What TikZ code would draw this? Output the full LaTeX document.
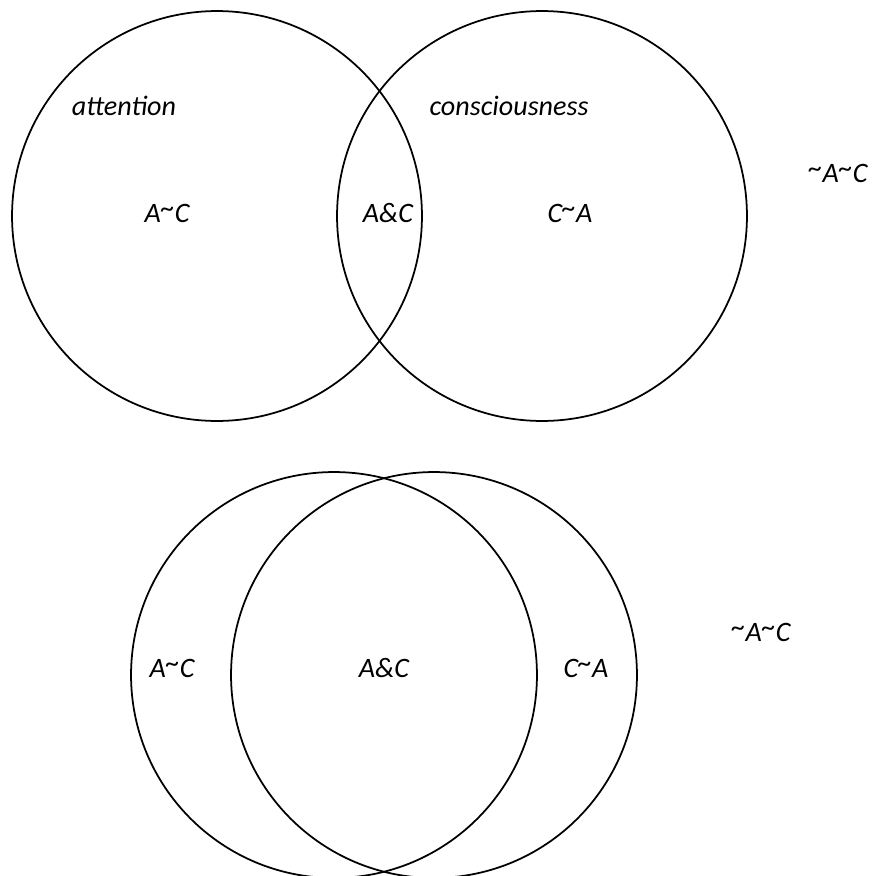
\documentclass[tikz,border=0pt]{standalone}
\usepackage{fontspec}
\setmainfont{Carlito}
\newcommand{\tld}{\raisebox{0.17em}{\textasciitilde}}
\begin{document}
\begin{tikzpicture}[x=0.02cm,y=-0.02cm,
  venn/.style={draw=black,line width=1pt,circle,minimum size=8.2cm,inner sep=0pt},
  lbl/.style={font=\fontsize{16}{19}\selectfont\itshape,inner sep=0pt}]
\useasboundingbox (0,0) rectangle (875,876);
\begin{scope}
\clip (0,0) rectangle (875,876);
% top diagram
\node[venn] (attC) at (217,216) {};
\node[venn] (conC) at (542,216) {};
% bottom diagram
\node[venn,minimum size=8.12cm] (attB) at (334,675) {};
\node[venn,minimum size=8.12cm] (conB) at (434,675) {};
\end{scope}
% top labels
\node[lbl] (tatt) at (124,106) {attention};
\node[lbl] (tcon) at (509,106) {consciousness};
\node[lbl] (tAnC) at (167,213) {A\tld C};
\node[lbl] (tAC) at (388,213) {A\&C};
\node[lbl] (tCnA) at (570,213) {C\tld A};
\node[lbl] (tnn) at (838,173) {\tld A\tld C};
% bottom labels
\node[lbl] (bAnC) at (172,668) {A\tld C};
\node[lbl] (bAC) at (384,668) {A\&C};
\node[lbl] (bCnA) at (586,668) {C\tld A};
\node[lbl] (bnn) at (761,632) {\tld A\tld C};
\end{tikzpicture}
\end{document}
